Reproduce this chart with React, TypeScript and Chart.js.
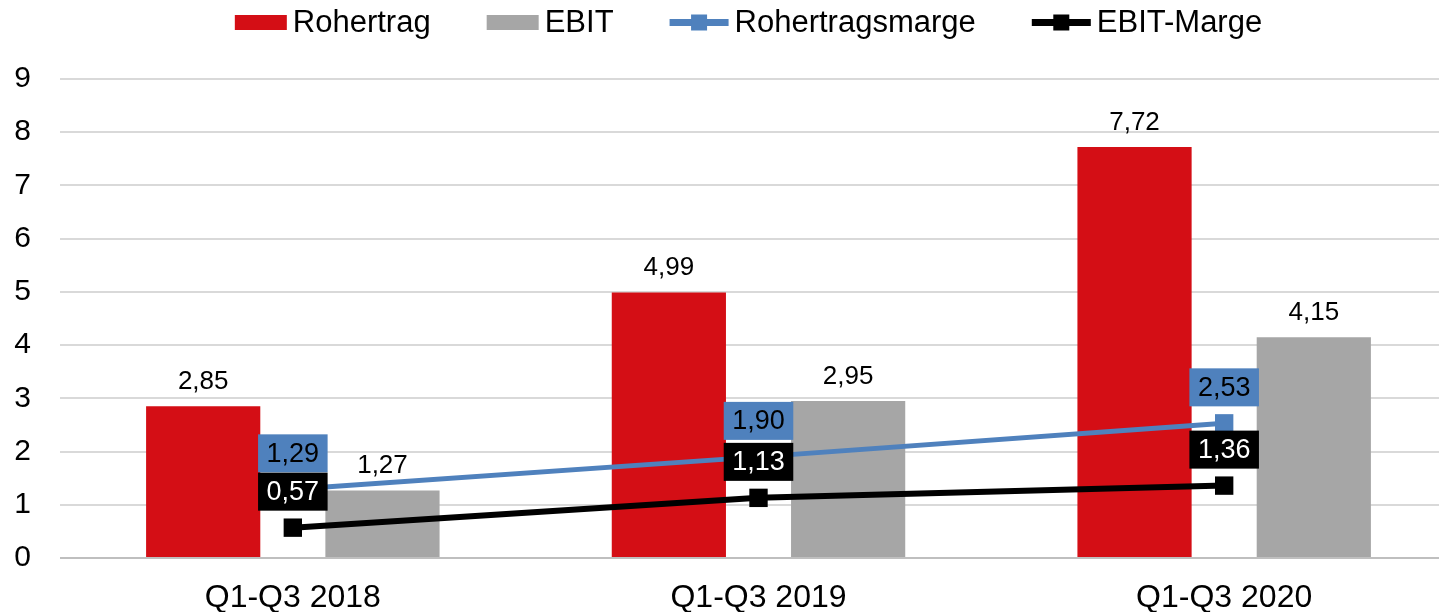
import { useEffect, useRef } from 'react';
import { Chart, registerables } from 'chart.js';

Chart.register(...registerables);

const categories = ['Q1-Q3 2018', 'Q1-Q3 2019', 'Q1-Q3 2020'];
const rohertrag = [2.85, 4.99, 7.72];
const ebit = [1.27, 2.95, 4.15];
const rohertragsmarge = [1.29, 1.9, 2.53];
const ebitMarge = [0.57, 1.13, 1.36];
const yTicks = [0, 1, 2, 3, 4, 5, 6, 7, 8, 9];

const RED = '#D40E15';
const GRAY = '#A6A6A6';
const BLUE = '#4F81BD';
const BLACK = '#000000';
const FONT = '"Liberation Sans", Arial, sans-serif';

const fmt = (v: number) => v.toFixed(2).replace('.', ',');

const valueLabels = {
  id: 'valueLabels',
  afterDatasetsDraw(chart: any) {
    const ctx = chart.ctx;
    ctx.save();
    ctx.font = `26px ${FONT}`;
    ctx.textAlign = 'center';
    chart.data.datasets.forEach((ds: any, i: number) => {
      const meta = chart.getDatasetMeta(i);
      if (meta.type !== 'bar') return;
      meta.data.forEach((el: any, j: number) => {
        ctx.fillStyle = '#000';
        ctx.textBaseline = 'alphabetic';
        ctx.fillText(fmt(ds.data[j]), el.x, el.y - 17);
      });
    });
    ctx.font = `27px ${FONT}`;
    chart.data.datasets.forEach((ds: any, i: number) => {
      const meta = chart.getDatasetMeta(i);
      if (meta.type !== 'line') return;
      meta.data.forEach((el: any, j: number) => {
        const t = fmt(ds.data[j]);
        const w = ctx.measureText(t).width + 17;
        const h = 38;
        const bottom = el.y - 17;
        ctx.fillStyle = ds.boxColor;
        ctx.fillRect(el.x - w / 2, bottom - h, w, h);
        ctx.fillStyle = ds.boxText;
        ctx.textBaseline = 'middle';
        ctx.fillText(t, el.x, bottom - h / 2 + 1);
      });
    });
    ctx.restore();
  },
};

const customLegend = {
  id: 'customLegend',
  afterDraw(chart: any) {
    const ctx = chart.ctx;
    ctx.save();
    ctx.font = `31px ${FONT}`;
    ctx.textBaseline = 'middle';
    ctx.textAlign = 'left';
    const items = chart.data.datasets.map((ds: any) => ({
      label: ds.label,
      type: ds.type || 'bar',
      color: ds.type === 'line' ? ds.borderColor : ds.backgroundColor,
      sym: ds.type === 'line' ? 59 : 52,
      tw: ctx.measureText(ds.label).width,
    }));
    const gap = 6;
    const itemGap = 56;
    const total = items.reduce((s: number, it: any) => s + it.sym + gap + it.tw, 0) + itemGap * (items.length - 1);
    const ca = chart.chartArea;
    let x = (ca.left + ca.right) / 2 - 10 - total / 2;
    const cy = 22.5;
    items.forEach((it: any) => {
      ctx.fillStyle = it.color;
      if (it.type === 'line') {
        ctx.fillRect(x, cy - 3.5, it.sym, 7);
        ctx.fillRect(x + it.sym / 2 - 8, cy - 8, 16, 16);
      } else {
        ctx.fillRect(x, cy - 7.5, it.sym, 15);
      }
      x += it.sym + gap;
      ctx.fillStyle = '#000';
      ctx.fillText(it.label, x, cy + 1);
      x += it.tw + itemGap;
    });
    ctx.restore();
  },
};

export default function App() {
  const ref = useRef<HTMLCanvasElement | null>(null);
  useEffect(() => {
    if (!ref.current) return;
    const chart = new Chart(ref.current, {
      type: 'bar',
      data: {
        labels: categories,
        datasets: [
          {
            type: 'bar',
            label: 'Rohertrag',
            data: rohertrag,
            backgroundColor: RED,
            categoryPercentage: 0.77,
            barPercentage: 0.637,
            order: 2,
          },
          {
            type: 'bar',
            label: 'EBIT',
            data: ebit,
            backgroundColor: GRAY,
            categoryPercentage: 0.77,
            barPercentage: 0.637,
            order: 2,
          },
          {
            type: 'line',
            label: 'Rohertragsmarge',
            data: rohertragsmarge,
            borderColor: BLUE,
            backgroundColor: BLUE,
            borderWidth: 5,
            pointStyle: 'rect',
            pointRadius: 13,
            pointBorderWidth: 0,
            pointHoverRadius: 13,
            tension: 0,
            order: 1,
            boxColor: BLUE,
            boxText: '#000',
          } as any,
          {
            type: 'line',
            label: 'EBIT-Marge',
            data: ebitMarge,
            borderColor: BLACK,
            backgroundColor: BLACK,
            borderWidth: 6,
            pointStyle: 'rect',
            pointRadius: 13,
            pointBorderWidth: 0,
            pointHoverRadius: 13,
            tension: 0,
            order: 0,
            boxColor: BLACK,
            boxText: '#fff',
          } as any,
        ],
      },
      options: {
        responsive: false,
        animation: false,
        events: [],
        layout: { padding: { top: 79, right: 6, left: 1, bottom: 0 } },
        plugins: {
          legend: { display: false },
          tooltip: { enabled: false },
        },
        scales: {
          x: {
            offset: true,
            grid: { display: false },
            border: { display: false },
            ticks: {
              color: '#000',
              font: { family: FONT, size: 32 },
              padding: 13,
              maxRotation: 0,
            },
            afterFit: (s: any) => {
              s.height = 54;
            },
          },
          y: {
            min: yTicks[0],
            max: yTicks[yTicks.length - 1],
            afterBuildTicks: (s: any) => {
              s.ticks = yTicks.map((v) => ({ value: v }));
            },
            grid: {
              drawTicks: false,
              lineWidth: 2,
              color: (c: any) => (c.tick && c.tick.value === 0 ? '#BFBFBF' : '#D9D9D9'),
            },
            border: { display: false },
            ticks: {
              color: '#000',
              font: { family: FONT, size: 30 },
              padding: 29,
            },
            afterFit: (s: any) => {
              s.width = 59;
            },
          },
        },
      },
      plugins: [valueLabels, customLegend],
    });
    return () => chart.destroy();
  }, []);
  return (
    <div
      style={{
        position: 'fixed',
        left: 0,
        top: 0,
        width: 1439,
        height: 612,
        overflow: 'hidden',
        background: '#fff',
      }}
    >
      <canvas ref={ref} width={1470} height={612} style={{ display: 'block', width: 1470, height: 612 }} />
    </div>
  );
}
